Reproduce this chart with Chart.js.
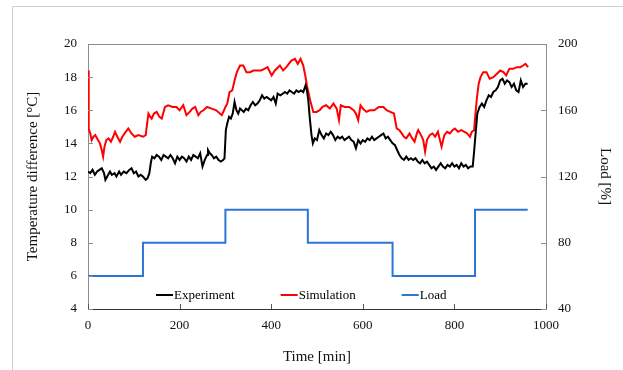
<!DOCTYPE html>
<html>
<head>
<meta charset="utf-8">
<script src="https://cdn.jsdelivr.net/npm/chart.js@4.4.1/dist/chart.umd.min.js"></script>
<style>
  html, body { margin: 0; padding: 0; background: #fff; }
  #canvas { display: block; }
</style>
</head>
<body>
<canvas id="canvas" width="623" height="370"></canvas>
<script>
// values (time in min)
var expTime = [0,5,10,15,20,25,30,35,38,42,48,52,58,62,68,72,78,84,90,95,100,105,110,115,120,126,130,134,137,140,145,150,155,160,165,170,175,180,185,190,195,200,205,210,215,220,225,230,235,240,245,250,255,260,262,266,270,275,280,285,290,295,298,301,304,308,312,316,320,324,328,332,336,340,345,350,355,360,365,370,375,380,385,390,395,400,405,410,414,420,425,430,435,440,445,450,455,460,465,470,475,478,481,484,488,491,495,500,505,510,515,520,525,530,535,540,545,550,555,560,565,570,575,580,585,590,595,600,605,610,615,620,625,630,635,640,645,650,655,660,665,670,675,680,685,690,695,700,705,710,715,720,725,730,735,740,745,750,755,760,765,770,775,780,785,790,795,800,805,810,815,820,825,830,835,840,843,846,850,855,860,865,870,875,880,885,890,895,900,905,910,915,920,925,930,935,940,945,950,955,960];
var expTemp = [12.3,12.2,12.4,12.1,12.3,12.4,12.5,12.2,11.8,12.0,12.3,12.1,12.2,12.0,12.3,12.1,12.3,12.2,12.4,12.5,12.2,12.3,12.0,12.1,12.0,11.8,11.9,12.2,12.8,13.2,13.1,13.3,13.2,13.0,13.3,13.2,13.1,13.3,13.1,12.8,13.2,13.0,13.2,13.1,12.9,13.2,13.0,13.3,13.2,13.1,13.4,12.6,13.0,13.3,13.6,13.4,13.3,13.1,13.2,13.0,12.9,13.0,13.1,14.8,15.2,15.6,15.5,15.8,16.5,16.0,15.8,16.1,16.0,15.9,16.1,16.0,16.3,16.5,16.3,16.4,16.6,16.9,16.7,16.8,16.7,16.6,16.8,16.4,17.0,16.9,17.0,17.1,17.0,17.2,17.1,17.0,17.2,17.1,17.2,17.1,17.5,17.2,16.6,15.6,14.5,14.0,14.3,14.2,14.8,14.5,14.3,14.6,14.5,14.7,14.5,14.2,14.4,14.3,14.4,14.2,14.3,14.4,14.2,14.1,13.7,14.2,14.0,14.2,14.1,14.3,14.2,14.4,14.2,14.3,14.4,14.5,14.6,14.3,14.4,14.2,14.0,13.9,13.6,13.3,13.1,13.0,13.2,13.0,13.1,13.0,13.1,12.9,12.8,13.0,12.8,12.9,12.7,12.5,12.6,12.4,12.6,12.8,12.6,12.5,12.7,12.6,12.8,12.6,12.7,12.5,12.8,12.6,12.7,12.5,12.6,12.6,13.5,14.5,15.8,16.2,16.4,16.2,16.6,16.9,16.8,17.1,17.2,17.4,17.8,17.9,17.6,17.8,17.7,17.4,17.6,17.2,17.1,17.8,17.4,17.6,17.6];

var simTime = [0,1,2,5,8,12,16,20,26,30,33,36,40,45,50,55,59,64,70,75,80,88,95,102,110,120,126,130,132,136,139,144,150,156,161,165,168,175,185,193,200,208,215,222,228,234,241,246,252,260,270,280,292,297,300,304,309,315,320,325,332,339,346,354,361,370,378,385,392,401,408,419,426,433,444,452,458,464,470,475,478,485,492,499,506,512,520,528,536,543,548,552,560,570,580,585,590,595,600,608,615,625,635,645,652,660,668,674,680,685,690,695,702,708,713,718,721,727,732,736,740,746,752,758,764,772,778,784,790,796,801,808,815,822,828,834,838,843,846,849,853,857,863,870,877,885,893,900,907,913,920,928,936,944,950,955,961];
var simTemp = [18.4,16.5,14.9,14.6,14.2,14.4,14.5,14.3,14.0,13.6,13.2,13.8,14.2,14.3,14.1,14.4,14.7,14.4,14.1,14.4,14.6,14.9,14.6,14.4,14.5,14.4,14.5,15.4,15.8,15.6,15.5,15.8,15.9,15.6,15.5,15.9,16.2,16.3,16.2,16.2,16.0,16.3,15.7,15.9,16.1,16.2,15.7,15.9,16.0,16.2,16.1,16.0,15.7,16.0,16.2,16.4,17.1,17.2,17.8,18.3,18.7,18.7,18.3,18.3,18.4,18.4,18.4,18.5,18.6,18.1,18.4,18.7,18.4,18.6,19.0,19.1,18.8,19.1,18.7,18.0,17.5,16.6,15.9,15.9,16.0,16.2,16.3,16.1,16.4,16.1,15.4,16.3,16.2,16.2,16.0,15.8,15.4,16.3,16.1,15.9,16.0,16.0,16.2,16.2,16.0,15.9,15.8,14.9,14.8,14.6,14.4,14.3,14.6,14.3,14.1,14.6,14.8,14.5,14.2,13.5,14.2,14.5,14.6,14.4,14.7,13.8,14.5,14.7,14.6,14.8,14.9,14.7,14.8,14.7,14.6,14.4,14.7,14.8,15.8,16.7,17.6,18.0,18.3,18.3,17.9,18.0,18.2,18.4,18.3,18.1,18.5,18.5,18.6,18.6,18.7,18.8,18.6];

var loadTime = [0,120,300,480,665,845,960];
var loadValue = [60,80,100,80,60,100,100];

var seriesNames = ['Experiment','Simulation','Load'];
var seriesColors = ['#000000','#ff0000','#2e75d6'];

var xTicks = [0,200,400,600,800,1000];

function pts(xs, ys) {
  var out = [];
  for (let i = 0; i < xs.length; i++) {
    out.push({x: xs[i], y: ys[i]});
  }
  return out;
}

var FONT = '"Liberation Serif", "Times New Roman", serif';

// white background + the thin grey frame round the picture
const frame = {
  id: 'frame',
  beforeDraw(chart) {
    const ctx = chart.ctx;
    ctx.save();
    ctx.fillStyle = '#fff';
    ctx.fillRect(0, 0, chart.width, chart.height);
    ctx.strokeStyle = '#cfcfcf';
    ctx.lineWidth = 1;
    ctx.beginPath();
    ctx.moveTo(12.5, chart.height);
    ctx.lineTo(12.5, 6.5);
    ctx.lineTo(chart.width, 6.5);
    ctx.stroke();
    ctx.restore();
  }
};

// inward tick marks, top border, legend inside the plot
const extras = {
  id: 'extras',
  afterDatasetsDraw(chart) {
    const ctx = chart.ctx;
    const a = chart.chartArea;
    const s = chart.scales;
    ctx.save();
    ctx.lineWidth = 1;

    ctx.strokeStyle = '#8c8c8c';
    ctx.beginPath();
    ctx.moveTo(a.left, a.top + 0.5);
    ctx.lineTo(a.right, a.top + 0.5);
    ctx.stroke();

    ctx.strokeStyle = '#555';
    ctx.beginPath();
    s.x.ticks.forEach(t => {
      const px = Math.round(s.x.getPixelForValue(t.value)) + 0.5;
      ctx.moveTo(px, a.bottom);
      ctx.lineTo(px, a.bottom - 5);
    });
    ctx.stroke();

    ctx.strokeStyle = '#8c8c8c';
    ctx.beginPath();
    s.y.ticks.forEach(t => {
      const py = Math.round(s.y.getPixelForValue(t.value)) + 0.5;
      ctx.moveTo(a.left, py);
      ctx.lineTo(a.left + 5, py);
    });
    s.y2.ticks.forEach(t => {
      const py = Math.round(s.y2.getPixelForValue(t.value)) + 0.5;
      ctx.moveTo(a.right, py);
      ctx.lineTo(a.right - 5, py);
    });
    ctx.stroke();

    // legend
    ctx.font = '13px ' + FONT;
    ctx.textBaseline = 'middle';
    ctx.textAlign = 'left';
    let x = a.left + 68;
    const y = a.bottom - 14;
    chart.data.datasets.forEach(ds => {
      ctx.strokeStyle = ds.borderColor;
      ctx.lineWidth = 2;
      ctx.beginPath();
      ctx.moveTo(x, y);
      ctx.lineTo(x + 17, y);
      ctx.stroke();
      ctx.fillStyle = '#000';
      ctx.fillText(ds.label, x + 18, y + 1);
      x += 18 + ctx.measureText(ds.label).width + 46;
    });
    ctx.restore();
  }
};

const ctx = document.getElementById('canvas');

new Chart(ctx, {
  type: 'line',
  data: {
    datasets: [{
      label: seriesNames[0],
      data: pts(expTime, expTemp),
      borderColor: seriesColors[0],
      borderWidth: 2,
      yAxisID: 'y'
    }, {
      label: seriesNames[1],
      data: pts(simTime, simTemp),
      borderColor: seriesColors[1],
      borderWidth: 2,
      yAxisID: 'y'
    }, {
      label: seriesNames[2],
      data: pts(loadTime, loadValue),
      borderColor: seriesColors[2],
      borderWidth: 2,
      stepped: true,
      yAxisID: 'y2'
    }]
  },
  options: {
    responsive: false,
    animation: false,
    events: [],
    layout: { padding: { top: 44 } },
    elements: { point: { radius: 0 }, line: { tension: 0 } },
    plugins: { legend: { display: false }, tooltip: { enabled: false } },
    scales: {
      x: {
        type: 'linear',
        min: 0, max: 1000,
        afterBuildTicks: (sc) => { sc.ticks = xTicks.map(v => ({value: v})); },
        afterFit: (sc) => { sc.height = 61; },
        grid: { display: false, drawTicks: false },
        border: { display: true, color: '#333', width: 1 },
        ticks: { padding: 9, color: '#111', font: { family: FONT, size: 13 }, callback: (v) => String(v) },
        title: { display: true, text: 'Time [min]', color: '#111', padding: { top: 0, bottom: 4 }, font: { family: FONT, size: 15 } }
      },
      y: {
        position: 'left',
        min: 4, max: 20,
        ticks: { stepSize: 2, padding: 11, color: '#111', font: { family: FONT, size: 13 } },
        afterFit: (sc) => { sc.width = 88; },
        grid: { display: false, drawTicks: false },
        border: { display: true, color: '#8c8c8c', width: 1 },
        title: { display: true, text: 'Temperature difference [°C]', color: '#111', padding: { top: 24, bottom: 0 }, font: { family: FONT, size: 15 } }
      },
      y2: {
        position: 'right',
        min: 40, max: 200,
        ticks: { stepSize: 40, padding: 12, color: '#111', font: { family: FONT, size: 13 } },
        afterFit: (sc) => { sc.width = 77; },
        grid: { display: false, drawTicks: false },
        border: { display: true, color: '#8c8c8c', width: 1 },
        title: { display: true, text: 'Load [%]', color: '#111', padding: { top: 9, bottom: 0 }, font: { family: FONT, size: 15 } }
      }
    }
  },
  plugins: [frame, extras]
});
</script>
</body>
</html>
